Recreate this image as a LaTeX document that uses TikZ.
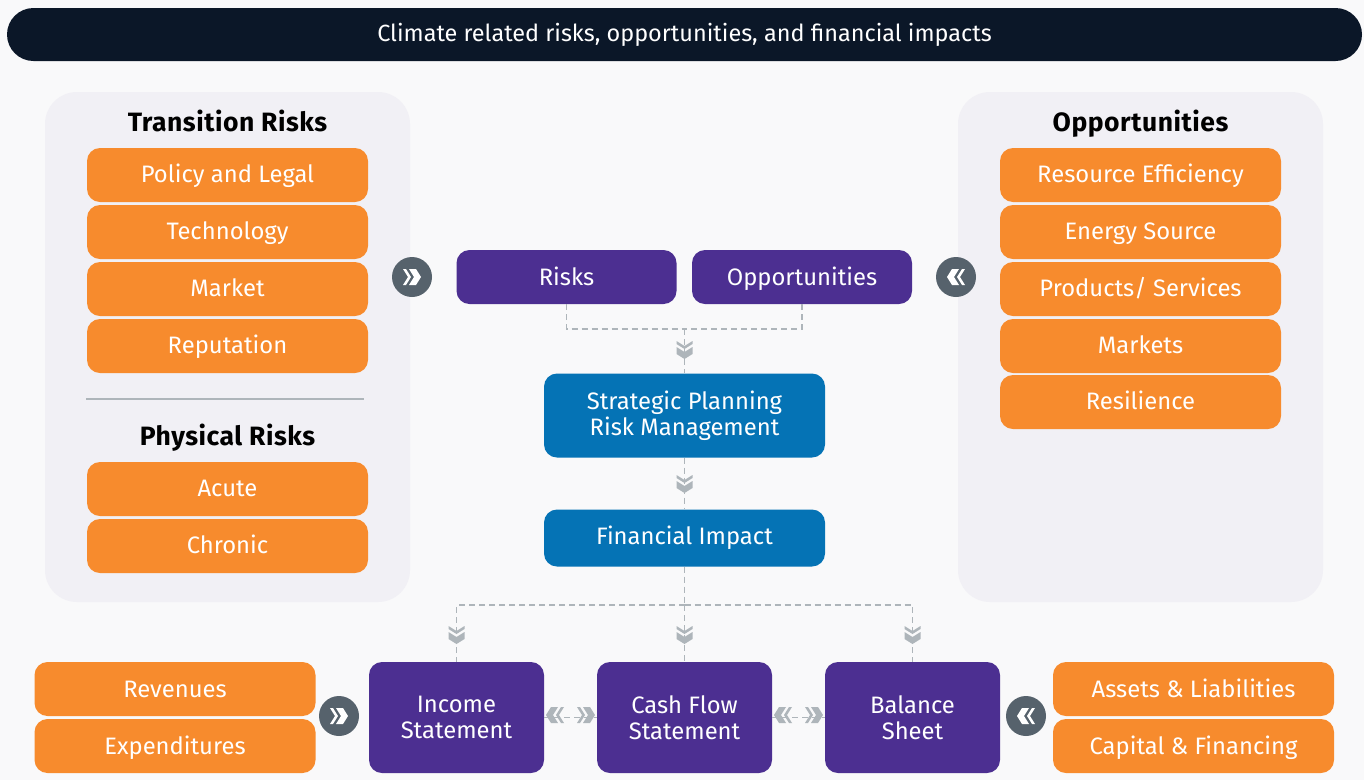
\documentclass[tikz,border=0pt]{standalone}
\usepackage{fontspec}
\setmainfont{Fira Sans}
\newfontfamily\headingfont[LetterSpace=2]{Fira Sans}
\usetikzlibrary{arrows, shapes.geometric}
\definecolor{pagegray}{HTML}{F9F9FA}
\definecolor{panelgray}{HTML}{F1F0F5}
\definecolor{navyband}{HTML}{0B1728}
\definecolor{riskorange}{HTML}{F78B2D}
\definecolor{deeppurple}{HTML}{4C2F91}
\definecolor{oceanblue}{HTML}{0573B5}
\definecolor{linkgray}{HTML}{AEB5BA}
\definecolor{badgegray}{HTML}{56626C}
\tikzset{
  chevrons/.pic={
    \fill[pic actions] (-8,-9) -- (0,-4) -- (8,-9) -- (8,-6) -- (0,-1) -- (-8,-6) -- cycle;
    \fill[pic actions] (-8,-3) -- (0,2) -- (8,-3) -- (8,4) -- (0,9) -- (-8,4) -- cycle;
  }
}

\begin{document}
\begin{tikzpicture}[x=1pt,y=-1pt,node distance=57pt,
 panel/.style={fill=panelgray,rounded corners=32pt},
 main box/.style={rounded corners=13pt,text=white,align=center,inner sep=0pt,font=\fontsize{23.8}{26.5}\selectfont},
 orange box/.style={main box,fill=riskorange,minimum width=281pt,minimum height=54pt,text height=18pt,text depth=4pt},
 low text/.style={text height=19pt,text depth=3pt},
 purple box/.style={main box,fill=deeppurple,minimum width=220pt,minimum height=54pt,low text},
 blue box/.style={main box,fill=oceanblue,minimum width=281pt},
 statement box/.style={main box,fill=deeppurple,minimum width=175pt,minimum height=111pt},
 heading/.style={font=\fontsize{26.5}{30}\headingfont\bfseries,text=black,text height=18pt,text depth=0pt},
 badge/.style={circle,fill=badgegray,minimum size=40pt,inner sep=0pt},
 link/.style={draw=linkgray,line width=1.2pt,dash pattern=on 6pt off 4pt}]

  \fill[pagegray] (0,0) rectangle (1364,780);
  \useasboundingbox (0,0) rectangle (1364,780);

  % banner and side panels
  \node[fill=navyband,rounded corners=26.5pt,minimum width=1355pt,minimum height=53pt,inner sep=0pt,text=white,font=\fontsize{23.45}{27}\selectfont] (banner) at (684.5,34.5) {Climate related risks, opportunities, and financial impacts};
  \fill[panel] (45,92) rectangle (410,602);
  \fill[panel] (958,92) rectangle (1323,602);

  % left panel
  \node[heading] (transition) at (227.5,122) {Transition Risks};
  \node[orange box] (policy) at (227.5,175) {Policy and Legal};
  \node[orange box] (technology) [below of=policy] {Technology};
  \node[orange box] (market) [below of=technology] {Market};
  \node[orange box] (reputation) [below of=market] {Reputation};
  \coordinate (ruleleft) at (86,399);
  \coordinate (ruleright) at (364,399);
  \draw[linkgray,line width=1.5pt] (ruleleft) -- (ruleright);
  \node[heading] (physical) at (227.5,436) {Physical Risks};
  \node[orange box] (acute) at (227.5,489) {Acute};
  \node[orange box] (chronic) [below of=acute] {Chronic};

  % right panel
  \node[heading] (opportunities) at (1140.5,122) {Opportunities};
  \node[orange box] (efficiency) at (1140.5,175) {Resource Efficiency};
  \node[orange box] (energy) [below of=efficiency] {Energy Source};
  \node[orange box] (products) [below of=energy] {Products/ Services};
  \node[orange box] (markets) [below of=products] {Markets};
  \node[orange box] (resilience) at (1140.5,402) {Resilience};

  % middle column
  \node[purple box] (risks) at (566.5,277) {Risks};
  \node[purple box] (opps) at (802,277) {Opportunities};
  \node[blue box,minimum height=84pt] (planning) at (684.5,415.5) {Strategic Planning\\Risk Management};
  \node[blue box,minimum height=57pt] (impact) at (684.5,538) {Financial Impact};
  \coordinate (join) at (684.5,329);
  \coordinate (split) at (684.5,605);

  % bottom row
  \node[statement box] (income) at (456.5,717.5) {Income\\Statement};
  \node[statement box] (cashflow) at (684.5,717.5) {Cash Flow\\Statement};
  \node[statement box] (balance) at (912.5,717.5) {Balance\\Sheet};
  \node[orange box,low text] (revenues) at (175,689) {Revenues};
  \node[orange box,low text] (expenditures) [below of=revenues] {Expenditures};
  \node[orange box,low text] (assets) at (1193.5,689) {Assets \& Liabilities};
  \node[orange box,low text] (capital) [below of=assets] {Capital \& Financing};

  % dashed links
  \path[link] (risks.south) |- (join);
  \path[link] (opps.south) |- (join);
  \path[link] (join) -- (planning.north);
  \path[link] (planning.south) -- (impact.north);
  \path[link] (impact.south) -- (split);
  \foreach \s in {income, cashflow, balance} {
   \path[link] (split) -| (\s.north);}
  \path[link] (income.east) -- (cashflow.west);
  \path[link] (cashflow.east) -- (balance.west);

  % gray chevrons
  \foreach \x/\y in {684.5/350, 684.5/484, 456.5/635, 684.5/635, 912.5/635} {
   \path (\x,\y) pic[fill=linkgray] {chevrons};}
  \foreach \x in {555, 783} {
   \path (\x,715) pic[fill=linkgray,rotate=-90] {chevrons};}
  \foreach \x in {586, 814} {
   \path (\x,715) pic[fill=linkgray,rotate=90] {chevrons};}

  % round badges
  \node[badge] (badgea) at (412,277) {};
  \node[badge] (badgeb) at (956,277) {};
  \node[badge] (badgec) at (339,716) {};
  \node[badge] (badged) at (1026,716) {};
  \foreach \b in {badgea, badgec} {
   \path (\b) pic[fill=white,rotate=90] {chevrons};}
  \foreach \b in {badgeb, badged} {
   \path (\b) pic[fill=white,rotate=-90] {chevrons};}
\end{tikzpicture}
\end{document}
